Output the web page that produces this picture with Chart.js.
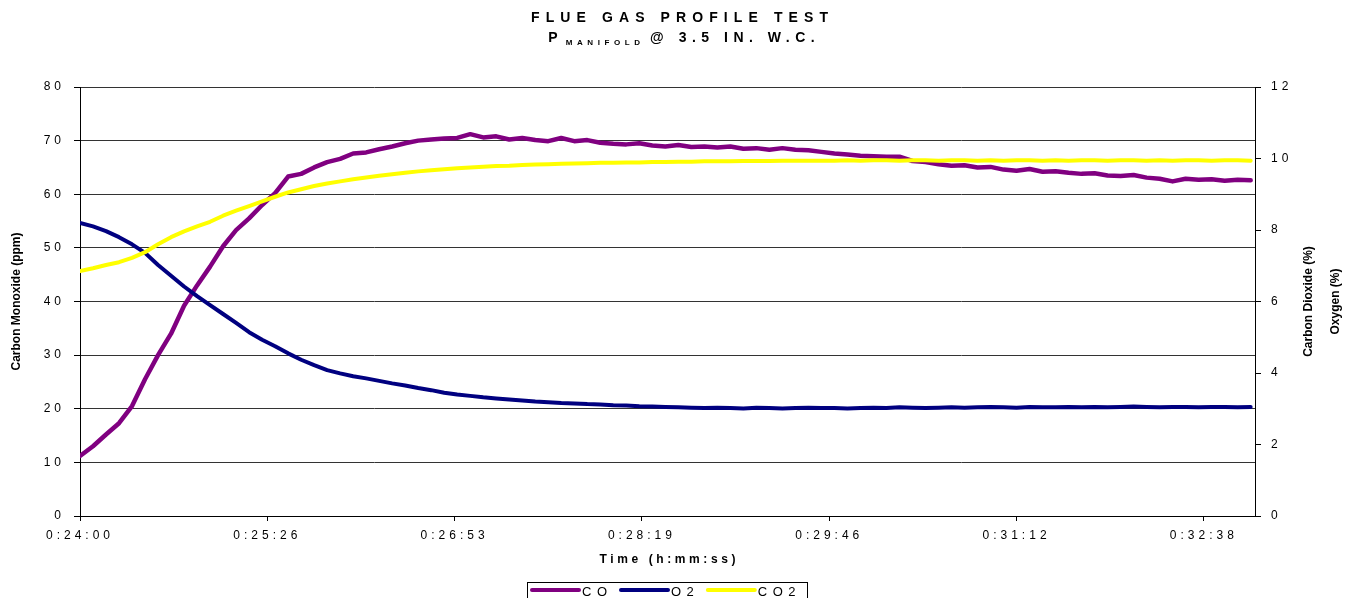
<!doctype html>
<html lang="en">
<head>
<meta charset="utf-8">
<title>Flue Gas Profile Test</title>
<style>
  * { margin: 0; padding: 0; }
  body { background: #fff; }
  canvas { display: block; }
</style>
</head>
<body>
<canvas id="myChart" width="1357" height="598"></canvas>
<script src="https://cdn.jsdelivr.net/npm/chart.js/dist/chart.umd.min.js"></script>
<script>
// seconds after 0:24:00
const elapsed = [
  0, 6, 12, 18, 24, 30, 36, 42, 48, 54,
  60, 66, 72, 78, 84, 90, 96, 102, 108, 114,
  120, 126, 132, 138, 144, 150, 156, 162, 168, 174,
  180, 186, 192, 198, 204, 210, 216, 222, 228, 234,
  240, 246, 252, 258, 264, 270, 276, 282, 288, 294,
  300, 306, 312, 318, 324, 330, 336, 342, 348, 354,
  360, 366, 372, 378, 384, 390, 396, 402, 408, 414,
  420, 426, 432, 438, 444, 450, 456, 462, 468, 474,
  480, 486, 492, 498, 504, 510, 516, 522, 528, 534, 540
];

// carbon monoxide, ppm (left axis)
const coPpm = [
  11.2, 13.0, 15.2, 17.3, 20.5, 25.5, 30.0, 34.0, 39.2, 43.0,
  46.5, 50.3, 53.3, 55.5, 58.0, 60.2, 63.3, 63.8, 65.0, 66.0,
  66.6, 67.6, 67.8, 68.4, 68.9, 69.5, 70.0, 70.2, 70.4, 70.5,
  71.2, 70.6, 70.8, 70.2, 70.5, 70.1, 69.9, 70.5, 69.9, 70.1,
  69.6, 69.4, 69.3, 69.5, 69.1, 68.9, 69.2, 68.8, 68.9, 68.7,
  68.9, 68.5, 68.6, 68.3, 68.6, 68.3, 68.2, 67.9, 67.6, 67.4,
  67.2, 67.1, 67.0, 67.0, 66.2, 66.0, 65.6, 65.3, 65.4, 65.0,
  65.1, 64.6, 64.4, 64.7, 64.2, 64.3, 64.0, 63.8, 63.9, 63.5,
  63.4, 63.6, 63.1, 62.9, 62.4, 62.9, 62.7, 62.8, 62.5, 62.7, 62.6
];

// oxygen, % (right axis)
const o2Pct = [
  8.20, 8.10, 7.97, 7.80, 7.60, 7.36, 7.02, 6.72, 6.42, 6.15,
  5.90, 5.65, 5.40, 5.14, 4.93, 4.75, 4.55, 4.37, 4.22, 4.08,
  3.99, 3.91, 3.85, 3.78, 3.71, 3.65, 3.58, 3.52, 3.45, 3.40,
  3.36, 3.32, 3.29, 3.26, 3.23, 3.20, 3.18, 3.16, 3.15, 3.13,
  3.12, 3.10, 3.09, 3.07, 3.06, 3.05, 3.04, 3.03, 3.02, 3.03,
  3.02, 3.01, 3.03, 3.02, 3.01, 3.02, 3.03, 3.02, 3.02, 3.01,
  3.02, 3.03, 3.02, 3.04, 3.03, 3.02, 3.03, 3.04, 3.03, 3.04,
  3.05, 3.04, 3.03, 3.05, 3.04, 3.04, 3.05, 3.04, 3.05, 3.04,
  3.05, 3.06, 3.05, 3.04, 3.05, 3.05, 3.04, 3.05, 3.05, 3.04, 3.05
];

// carbon dioxide, % (right axis)
const co2Pct = [
  6.85, 6.93, 7.02, 7.10, 7.22, 7.38, 7.60, 7.80, 7.96, 8.10,
  8.23, 8.40, 8.54, 8.67, 8.80, 8.93, 9.05, 9.14, 9.23, 9.30,
  9.36, 9.42, 9.47, 9.52, 9.56, 9.60, 9.64, 9.67, 9.70, 9.73,
  9.75, 9.77, 9.79, 9.80, 9.82, 9.83, 9.84, 9.85, 9.86, 9.87,
  9.88, 9.88, 9.89, 9.89, 9.90, 9.90, 9.91, 9.91, 9.92, 9.92,
  9.92, 9.93, 9.93, 9.93, 9.94, 9.94, 9.94, 9.94, 9.94, 9.95,
  9.94, 9.95, 9.95, 9.94, 9.95, 9.95, 9.94, 9.95, 9.95, 9.94,
  9.95, 9.94, 9.95, 9.95, 9.94, 9.95, 9.94, 9.95, 9.95, 9.94,
  9.95, 9.95, 9.94, 9.95, 9.94, 9.95, 9.95, 9.94, 9.95, 9.95, 9.94
];

const xTickValues = [0, 86.4, 172.8, 259.2, 345.6, 432, 518.4];
const xTickLabels = ['0:24:00', '0:25:26', '0:26:53', '0:28:19', '0:29:46', '0:31:12', '0:32:38'];
const seriesNames = ['CO', 'O2', 'CO2'];
const seriesColors = ['#800080', '#000080', '#FFFF00'];

const FONT = "'Liberation Sans', Arial, sans-serif";

function spacedText(ctx, text, x, y, spacing, align) {
  ctx.letterSpacing = spacing + 'px';
  const w = ctx.measureText(text).width - spacing;
  let left = x;
  if (align === 'center') left = x - w / 2;
  if (align === 'right') left = x - w;
  ctx.textAlign = 'left';
  ctx.fillText(text, left, y);
  return w;
}

// excel-ish spaced lettering, titles and boxed legend
const excelLook = {
  id: 'excelLook',
  beforeUpdate(chart) { chart.ctx.letterSpacing = '4px'; },
  beforeDraw(chart) { chart.ctx.letterSpacing = '4px'; },
  afterDraw(chart) {
    const ctx = chart.ctx;
    const a = chart.chartArea;
    ctx.save();
    ctx.fillStyle = '#000';
    ctx.textBaseline = 'alphabetic';

    // title
    ctx.font = 'bold 14px ' + FONT;
    spacedText(ctx, 'FLUE GAS PROFILE TEST', chart.width / 2 + 1, 22, 6.1, 'center');

    // subtitle with subscript
    const rest = '@ 3.5 IN. W.C.';
    ctx.font = 'bold 14px ' + FONT;
    ctx.letterSpacing = '0px';
    const wP = ctx.measureText('P').width;
    ctx.letterSpacing = '5.5px';
    const wR = ctx.measureText(rest).width - 5.5;
    ctx.font = 'bold 8px ' + FONT;
    ctx.letterSpacing = '4.6px';
    const wM = ctx.measureText('MANIFOLD').width - 4.6;
    const total = wP + 8 + wM + 10 + wR;
    let x = chart.width / 2 + 3 - total / 2;
    ctx.font = 'bold 14px ' + FONT;
    spacedText(ctx, 'P', x, 42, 0, 'left');
    x += wP + 8;
    ctx.font = 'bold 8px ' + FONT;
    spacedText(ctx, 'MANIFOLD', x, 45, 4.6, 'left');
    x += wM + 10;
    ctx.font = 'bold 14px ' + FONT;
    spacedText(ctx, rest, x, 42, 5.5, 'left');

    // axis titles
    const midY = (a.top + a.bottom) / 2;
    ctx.font = 'bold 12px ' + FONT;
    ctx.textBaseline = 'middle';
    [['Carbon Monoxide (ppm)', 17], ['Carbon Dioxide (%)', a.right + 54], ['Oxygen (%)', a.right + 81]].forEach(([txt, cx]) => {
      ctx.save();
      ctx.translate(cx, midY);
      ctx.rotate(-Math.PI / 2);
      spacedText(ctx, txt, 0, 0, 0, 'center');
      ctx.restore();
    });

    ctx.textBaseline = 'alphabetic';
    spacedText(ctx, 'Time (h:mm:ss)', (a.left + a.right) / 2, 563, 3.6, 'center');

    // legend
    ctx.strokeStyle = '#000';
    ctx.lineWidth = 1;
    ctx.strokeRect(527.5, 582.5, 280, 30);
    ctx.font = '13px ' + FONT;
    let lx = 532;
    seriesNames.forEach((name, i) => {
      ctx.strokeStyle = seriesColors[i];
      ctx.lineWidth = 4;
      ctx.lineCap = 'round';
      ctx.beginPath();
      ctx.moveTo(lx, 590);
      ctx.lineTo(lx + 47, 590);
      ctx.stroke();
      const w = spacedText(ctx, name, lx + 50, 596, 5.5, 'left');
      lx += 50 + w + 14;
    });
    ctx.restore();
  }
};

const tickFont = { family: FONT, size: 12 };

const config = {
  type: 'line',
  data: {
    datasets: [
      { label: seriesNames[0], yAxisID: 'yLeft', borderColor: seriesColors[0], borderWidth: 4.5, order: 2,
        data: elapsed.map((t, i) => ({ x: t, y: coPpm[i] })) },
      { label: seriesNames[1], yAxisID: 'yRight', borderColor: seriesColors[1], borderWidth: 4, order: 1,
        data: elapsed.map((t, i) => ({ x: t, y: o2Pct[i] })) },
      { label: seriesNames[2], yAxisID: 'yRight', borderColor: seriesColors[2], borderWidth: 4, order: 0,
        data: elapsed.map((t, i) => ({ x: t, y: co2Pct[i] })) }
    ]
  },
  options: {
    responsive: false,
    animation: false,
    elements: {
      point: { radius: 0 },
      line: { tension: 0, borderJoinStyle: 'round', borderCapStyle: 'round', fill: false }
    },
    layout: { padding: { top: 87, left: 0, right: 0, bottom: 0 } },
    plugins: {
      legend: { display: false },
      title: { display: false },
      tooltip: { enabled: false }
    },
    scales: {
      x: {
        type: 'linear',
        min: 0,
        max: 542,
        afterBuildTicks: s => { s.ticks = xTickValues.map(v => ({ value: v })); },
        afterFit: s => { s.height = 82; },
        ticks: { callback: (v, i) => xTickLabels[i], autoSkip: false, maxRotation: 0, padding: 7, font: tickFont, color: '#000' },
        grid: { drawOnChartArea: false, tickLength: 5, tickColor: '#000' },
        border: { color: '#000' }
      },
      yLeft: {
        position: 'left',
        min: 0,
        max: 80,
        afterFit: s => { s.width = 80; },
        ticks: { stepSize: 10, padding: 9, font: tickFont, color: '#000' },
        grid: { color: '#333', tickColor: '#000', tickLength: 6 },
        border: { color: '#000' }
      },
      yRight: {
        position: 'right',
        min: 0,
        max: 12,
        afterFit: s => { s.width = 102; },
        ticks: { stepSize: 2, padding: 10, font: tickFont, color: '#000' },
        grid: { drawOnChartArea: false, tickColor: '#000', tickLength: 6 },
        border: { color: '#000' }
      }
    }
  },
  plugins: [excelLook]
};

const myChart = new Chart(document.getElementById('myChart'), config);
</script>
</body>
</html>
